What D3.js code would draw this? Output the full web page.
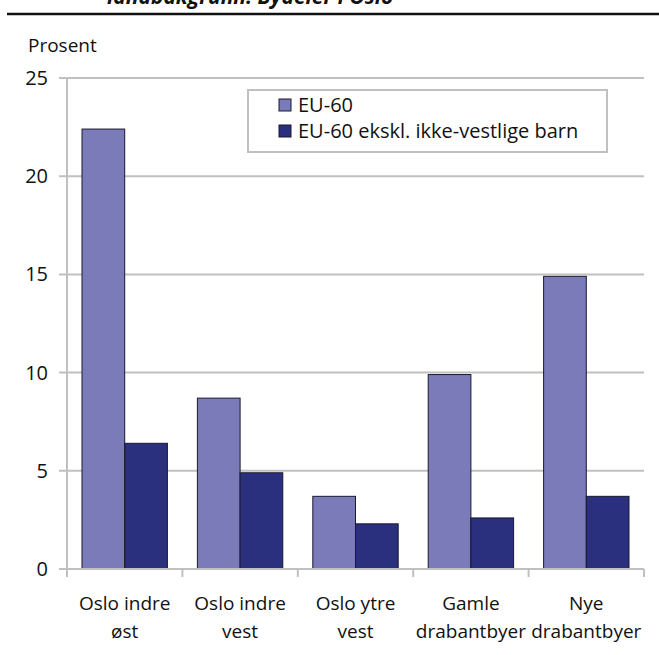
<!DOCTYPE html>
<html>
<head>
<meta charset="utf-8">
<script src="https://cdn.jsdelivr.net/npm/d3@7"></script>
<style>
  body { margin: 0; background: #fff; }
  svg text { font-family: "Open Sans", "DejaVu Sans", sans-serif; fill: #111; }
</style>
</head>
<body>
<div id="viz"></div>
<script>
const categories = [["Oslo indre", "øst"], ["Oslo indre", "vest"], ["Oslo ytre", "vest"], ["Gamle", "drabantbyer"], ["Nye", "drabantbyer"]];
const seriesNames = ["EU-60", "EU-60 ekskl. ikke-vestlige barn"];
const eu60 = [22.4, 8.7, 3.7, 9.9, 14.9];
const eu60Ekskl = [6.4, 4.9, 2.3, 2.6, 3.7];
const yTicks = [0, 5, 10, 15, 20, 25];
const colors = ["#7b7bba", "#2a2f7e"];

const width = 659, height = 655;
const margin = {left: 67, right: 15, top: 78, bottom: 86};
const fontSize = "19px";

const svg = d3.select("#viz").append("svg")
    .attr("width", width)
    .attr("height", height);

// title is cut off at the top of the picture
svg.append("text")
    .attr("x", 107).attr("y", 4)
    .style("font-size", "21px")
    .style("font-weight", "bold")
    .style("font-style", "italic")
    .text("landbakgrunn. Bydeler i Oslo");

svg.append("line")
    .attr("x1", 7).attr("x2", width)
    .attr("y1", 14).attr("y2", 14)
    .attr("stroke", "#111").attr("stroke-width", 2.5);

svg.append("text")
    .attr("x", 28).attr("y", 52)
    .style("font-size", fontSize)
    .text("Prosent");

const x = d3.scaleBand()
    .domain(d3.range(categories.length))
    .range([margin.left, width - margin.right])
    .paddingInner(0.26)
    .paddingOuter(0.13);

const xSub = d3.scaleBand()
    .domain([0, 1])
    .range([0, x.bandwidth()]);

const y = d3.scaleLinear()
    .domain([0, 25])
    .range([height - margin.bottom, margin.top]);

// gridlines
svg.append("g")
    .selectAll("line")
    .data(yTicks)
    .join("line")
    .attr("x1", margin.left - 8)
    .attr("x2", width - margin.right)
    .attr("y1", d => y(d)).attr("y2", d => y(d))
    .attr("stroke", "#c0c0c0").attr("stroke-width", 2);

svg.append("line")
    .attr("x1", margin.left).attr("x2", margin.left)
    .attr("y1", y(25)).attr("y2", y(0))
    .attr("stroke", "#c0c0c0").attr("stroke-width", 2);

svg.append("g")
    .selectAll("text")
    .data(yTicks)
    .join("text")
    .attr("x", 48)
    .attr("y", d => y(d) + 7)
    .attr("text-anchor", "end")
    .style("font-size", "20px")
    .text(d => d);

// category ticks
const step = x.step();
svg.append("g")
    .selectAll("line")
    .data(d3.range(categories.length + 1))
    .join("line")
    .attr("x1", i => margin.left + i * step)
    .attr("x2", i => margin.left + i * step)
    .attr("y1", y(0)).attr("y2", y(0) + 8)
    .attr("stroke", "#c0c0c0").attr("stroke-width", 2);

// bars
const series = [eu60, eu60Ekskl];
series.forEach((vals, s) => {
  svg.append("g")
    .selectAll("rect")
    .data(vals)
    .join("rect")
    .attr("x", (d, i) => x(i) + xSub(s))
    .attr("y", d => y(d))
    .attr("width", xSub.bandwidth())
    .attr("height", d => y(0) - y(d))
    .attr("fill", colors[s])
    .attr("stroke", "#1a1a2e")
    .attr("stroke-width", 1);
});

// baseline over bars
svg.append("line")
    .attr("x1", margin.left - 8).attr("x2", width - margin.right)
    .attr("y1", y(0)).attr("y2", y(0))
    .attr("stroke", "#c0c0c0").attr("stroke-width", 2);

// category labels
const labels = svg.append("g")
    .selectAll("text")
    .data(categories)
    .join("text")
    .attr("text-anchor", "middle")
    .style("font-size", fontSize);
labels.selectAll("tspan")
    .data((d, i) => d.map(t => ({t, i})))
    .join("tspan")
    .attr("x", d => x(d.i) + x.bandwidth() / 2)
    .attr("y", (d, j) => 610 + j * 28)
    .text(d => d.t);

// legend
const legend = svg.append("g");
legend.append("rect")
    .attr("x", 248).attr("y", 90)
    .attr("width", 359).attr("height", 62)
    .attr("fill", "#fff")
    .attr("stroke", "#c0c0c0").attr("stroke-width", 2);

seriesNames.forEach((name, s) => {
  legend.append("rect")
    .attr("x", 279).attr("y", 99 + s * 26)
    .attr("width", 12).attr("height", 12)
    .attr("fill", colors[s])
    .attr("stroke", "#1a1a2e");
  legend.append("text")
    .attr("x", 298).attr("y", 112 + s * 26)
    .style("font-size", "20px")
    .text(name);
});
</script>
</body>
</html>
